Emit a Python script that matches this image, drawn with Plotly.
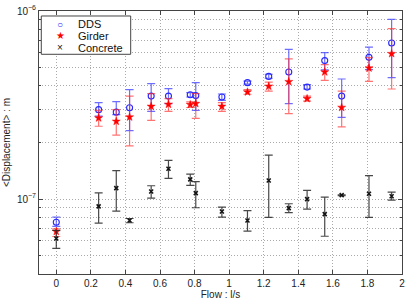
import plotly.graph_objects as go

flow = [0, 0.245, 0.347, 0.424, 0.549, 0.649, 0.775, 0.807, 0.958, 1.106, 1.229, 1.345, 1.451, 1.553, 1.651, 1.809, 1.940]

dds = [7.54e-8, 2.99e-7, 2.90e-7, 3.06e-7, 3.53e-7, 3.53e-7, 3.59e-7, 3.55e-7, 3.49e-7, 4.16e-7, 4.49e-7, 4.74e-7, 3.94e-7, 5.45e-7, 3.53e-7, 5.67e-7, 6.76e-7]
dds_hi = [8.02e-8, 3.26e-7, 3.30e-7, 3.82e-7, 4.11e-7, 3.87e-7, 3.68e-7, 4.16e-7, 3.62e-7, 4.24e-7, 4.61e-7, 6.25e-7, 4.06e-7, 6.01e-7, 4.35e-7, 6.43e-7, 9.03e-7]
dds_lo = [7.16e-8, 2.76e-7, 2.81e-7, 2.31e-7, 2.93e-7, 3.22e-7, 3.49e-7, 2.96e-7, 3.35e-7, 4.09e-7, 4.39e-7, 3.22e-7, 3.85e-7, 4.86e-7, 2.72e-7, 4.88e-7, 4.42e-7]

girder = [6.73e-8, 2.70e-7, 2.59e-7, 2.73e-7, 3.11e-7, 3.19e-7, 3.18e-7, 3.22e-7, 3.11e-7, 3.71e-7, 3.98e-7, 4.21e-7, 3.42e-7, 4.74e-7, 3.07e-7, 4.97e-7, 5.93e-7]
girder_hi = [6.96e-8, 2.96e-7, 2.99e-7, 3.53e-7, 3.64e-7, 3.42e-7, 3.29e-7, 3.64e-7, 3.26e-7, 3.82e-7, 4.19e-7, 5.56e-7, 3.53e-7, 5.19e-7, 3.75e-7, 5.65e-7, 8.06e-7]
girder_lo = [6.33e-8, 2.44e-7, 2.19e-7, 1.92e-7, 2.62e-7, 2.93e-7, 3.07e-7, 2.69e-7, 2.93e-7, 3.61e-7, 3.75e-7, 2.85e-7, 3.32e-7, 4.28e-7, 2.42e-7, 4.23e-7, 3.85e-7]

concrete = [6.18e-8, 9.15e-8, 1.144e-7, 7.70e-8, 1.099e-7, 1.451e-7, 1.273e-7, 1.076e-7, 8.60e-8, 7.70e-8, 1.257e-7, 8.96e-8, 1.0e-7, 8.32e-8, 1.05e-7, 1.068e-7, 1.037e-7]
concrete_hi = [6.82e-8, 1.08e-7, 1.416e-7, 7.89e-8, 1.178e-7, 1.607e-7, 1.358e-7, 1.238e-7, 9.06e-8, 8.68e-8, 1.714e-7, 9.45e-8, 1.112e-7, 1.025e-7, 1.055e-7, 1.332e-7, 1.089e-7]
concrete_lo = [5.47e-8, 7.45e-8, 8.63e-8, 7.49e-8, 1.012e-7, 1.288e-7, 1.183e-7, 9.0e-8, 8.02e-8, 6.76e-8, 7.99e-8, 8.47e-8, 8.85e-8, 6.35e-8, 1.045e-7, 7.99e-8, 9.88e-8]

x_ticks = [0, 0.2, 0.4, 0.6, 0.8, 1, 1.2, 1.4, 1.6, 1.8, 2]
x_ticklabels = ["0", "0.2", "0.4", "0.6", "0.8", "1", "1.2", "1.4", "1.6", "1.8", "2"]
y_ticks = [1e-7, 1e-6]
y_ticklabels = ["10<sup>−7</sup>", "10<sup>−6</sup>"]
y_minor = [4e-8, 5e-8, 6e-8, 7e-8, 8e-8, 9e-8, 2e-7, 3e-7, 4e-7, 5e-7, 6e-7, 7e-7, 8e-7, 9e-7]

legend_names = ["DDS", "Girder", "Concrete"]
legend_glyphs = ["○", "★", "×"]


def errs(v, hi, lo):
    return [h - a for a, h in zip(v, hi)], [a - l for a, l in zip(v, lo)]


fig = go.Figure()

series = [
    (dds, dds_hi, dds_lo, "rgb(40,40,255)", "rgba(60,60,255,0.75)", "circle-open", 6, 1.1),
    (girder, girder_hi, girder_lo, "rgb(255,0,0)", "rgba(255,40,40,0.65)", "star", 6, 0.5),
    (concrete, concrete_hi, concrete_lo, "rgb(20,20,20)", "rgba(40,40,40,0.85)", "x-thin-open", 4, 1.5),
]

for name, (v, hi, lo, col, ecol, sym, sz, lw) in zip(legend_names, series):
    up, dn = errs(v, hi, lo)
    fig.add_trace(go.Scatter(
        x=flow, y=v, name=name, mode="markers",
        marker=dict(symbol=sym, size=sz, color=col, line=dict(color=col, width=lw)),
        error_y=dict(type="data", array=up, arrayminus=dn, symmetric=False,
                     color=ecol, thickness=1.2, width=4),
    ))

# legend box drawn as annotations (compact line spacing as in the reference)
fig.add_shape(type="rect", xref="paper", yref="paper",
              x0=0.0063, x1=0.2526, y0=0.8354, y1=0.981,
              line=dict(color="#444", width=1), fillcolor="white", layer="above")
leg_y = [0.9494, 0.9061, 0.8605]
glyph_sizes = [10, 10, 10]
for name, glyph, yy, s, srs in zip(legend_names, legend_glyphs, leg_y, glyph_sizes, series):
    fig.add_annotation(xref="paper", yref="paper", x=0.0587, y=yy, xanchor="center", yanchor="middle",
                       text=glyph, showarrow=False, font=dict(size=s, color=srs[3]))
    fig.add_annotation(xref="paper", yref="paper", x=0.1019, y=yy, xanchor="left", yanchor="middle",
                       text=name, showarrow=False, font=dict(size=11, color="#111"))

grid_col = "rgba(165,165,165,0.95)"
grid_dash = "1px,2px"
axis_common = dict(
    showline=True, linecolor="#444", linewidth=1, mirror="allticks",
    ticks="inside", ticklen=4, tickcolor="#444", automargin=False,
    showgrid=True, gridcolor=grid_col, griddash=grid_dash, gridwidth=1,
    zeroline=False, tickfont=dict(family="Liberation Sans, Arial", size=10, color="#222"),
)

fig.update_layout(
    width=409, height=300,
    margin=dict(l=39, r=7, t=11, b=26),
    paper_bgcolor="white", plot_bgcolor="white",
    font=dict(family="Liberation Sans, Arial", size=10, color="#222"),
    showlegend=False,
    xaxis=dict(range=[-0.1, 2], tickvals=x_ticks, ticktext=x_ticklabels,
               title=dict(text="Flow : l/s", standoff=0, font=dict(size=10)),
               **axis_common),
    yaxis=dict(type="log", range=[-7.398, -6], tickvals=y_ticks, ticktext=y_ticklabels,
               title=dict(text="&lt;Displacement&gt; : m", standoff=4, font=dict(size=10)),
               minor=dict(tickvals=y_minor, showgrid=True, gridcolor=grid_col,
                          griddash=grid_dash, ticks="inside", ticklen=2, tickcolor="#444"),
               **axis_common),
)

fig.write_html("out.html", config={"displayModeBar": False},
               post_script="document.body.style.margin='0';document.body.style.padding='0';")
